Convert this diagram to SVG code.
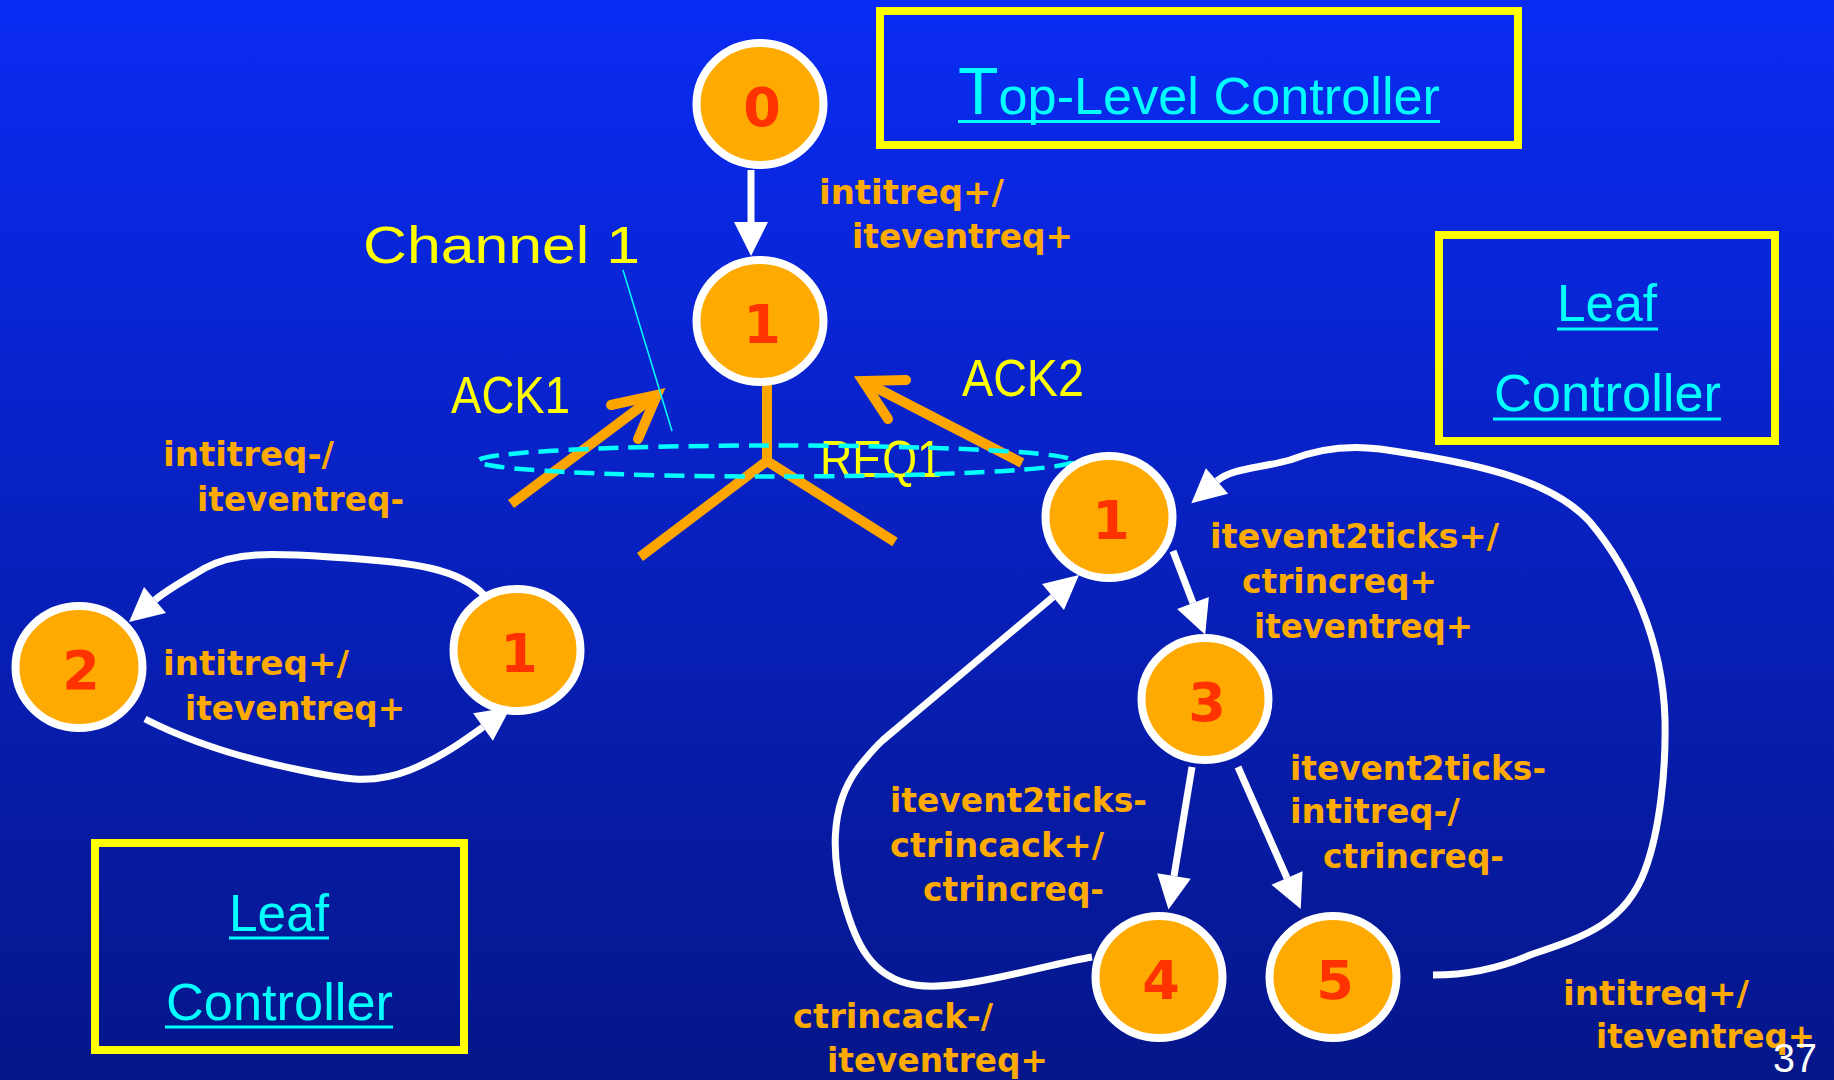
<svg xmlns="http://www.w3.org/2000/svg" width="1834" height="1080" viewBox="0 0 1834 1080">
  <defs>
    <linearGradient id="bg" x1="0" y1="0" x2="0" y2="1">
      <stop offset="0" stop-color="#0A2BF3"/>
      <stop offset="1" stop-color="#051689"/>
    </linearGradient>
    <marker id="head" markerUnits="userSpaceOnUse" markerWidth="36" markerHeight="36" refX="0" refY="17" orient="auto" overflow="visible">
      <path d="M0,0 L34,17 L0,34 Z" fill="#FFFFFF"/>
    </marker>
    <style>
      .node ellipse { fill: #FFAA00; stroke: #FFFFFF; stroke-width: 8; }
      .node text { font-family: "DejaVu Sans", Verdana, sans-serif; font-weight: bold; font-size: 54px; fill: #FF3300; text-anchor: middle; }
      .edge { fill: none; stroke: #FFFFFF; stroke-width: 7; marker-end: url(#head); }
      .sig { fill: none; stroke: #FFA500; stroke-width: 10; stroke-linejoin: miter; }
      .sig-head { fill: none; stroke: #FFA500; stroke-width: 10; stroke-linecap: round; stroke-linejoin: miter; }
      .lbl { font-family: "DejaVu Sans", Verdana, sans-serif; font-weight: bold; font-size: 33px; fill: #FFAA00; }
      .sigtxt { font-family: "Liberation Sans", Arial, sans-serif; font-size: 52px; fill: #FFFF00; }
      .box rect { fill: none; stroke: #FFFF00; stroke-width: 8; }
      .box text { font-family: "Liberation Sans", Arial, sans-serif; font-size: 52px; fill: #00FFFF; }
      .box line { stroke: #00FFFF; stroke-width: 3; }
    </style>
  </defs>

  <rect x="0" y="0" width="1834" height="1080" fill="url(#bg)"/>

  <!-- controller frames -->
  <g id="box-top" class="box">
    <rect x="880" y="11" width="638" height="134"/>
    <text x="958" y="113.5" font-size="54" textLength="482" lengthAdjust="spacingAndGlyphs"><tspan font-size="66">T</tspan>op-Level Controller</text>
    <line x1="958" y1="121.5" x2="1440" y2="121.5"/>
  </g>
  <g id="box-leaf-right" class="box">
    <rect x="1439" y="235" width="336" height="206"/>
    <text x="1557" y="321" textLength="100" lengthAdjust="spacingAndGlyphs">Leaf</text>
    <line x1="1557" y1="329" x2="1658" y2="329"/>
    <text x="1494" y="411" textLength="227" lengthAdjust="spacingAndGlyphs">Controller</text>
    <line x1="1493" y1="419" x2="1721" y2="419"/>
  </g>
  <g id="box-leaf-left" class="box">
    <rect x="95" y="843" width="369" height="207"/>
    <text x="229" y="931" textLength="100" lengthAdjust="spacingAndGlyphs">Leaf</text>
    <line x1="229" y1="938" x2="329" y2="938"/>
    <text x="166" y="1020" textLength="227" lengthAdjust="spacingAndGlyphs">Controller</text>
    <line x1="165" y1="1027" x2="393" y2="1027"/>
  </g>

  <!-- channel 1: handshake wires between the controllers -->
  <g id="channel">
    <path class="sig" d="M767,383 L767,461 M640,557 L767,461 L895,542"/>
    <path class="sig" d="M511,504 L655,396"/>
    <path class="sig-head" d="M611,405 L657,395 L638,439"/>
    <path class="sig" d="M1022,463 L865,382"/>
    <path class="sig-head" d="M906,380 L863,381 L888,419"/>
    <text class="sigtxt" x="451" y="413" textLength="119" lengthAdjust="spacingAndGlyphs">ACK1</text>
    <text class="sigtxt" x="962" y="396" textLength="122" lengthAdjust="spacingAndGlyphs">ACK2</text>
    <text class="sigtxt" x="820" y="477" textLength="122" lengthAdjust="spacingAndGlyphs">REQ1</text>
    <ellipse cx="775.5" cy="461" rx="297.5" ry="15.5" fill="none" stroke="#00FFFF" stroke-width="4.5" stroke-dasharray="20 10"/>
    <line x1="623" y1="270" x2="672" y2="431" stroke="#00FFFF" stroke-width="1.5"/>
    <text class="sigtxt" x="363" y="263" font-size="64" textLength="277" lengthAdjust="spacingAndGlyphs">Channel 1</text>
  </g>

  <!-- state transitions -->
  <g id="connectors">
    <path class="edge" d="M751,170 L751,222"/>
    <path class="edge" d="M484,595 C460,570 420,562 330,557 C270,553 235,552 205,568 C185,580 168,589 155,600"/>
    <path class="edge" d="M145,719 C190,742 240,758 300,770 C340,778 370,786 410,770 C440,758 462,742 483,727"/>
    <path class="edge" d="M1173,551 L1193,603"/>
    <path class="edge" d="M1192,767 L1174,876"/>
    <path class="edge" d="M1238,767 L1287,878"/>
    <path class="edge" d="M1092,957 C1040,966 960,992 915,985 C870,978 855,940 845,905 C832,862 828,808 858,768 C866,758 873,749 883,740 L1053,597"/>
    <path class="edge" d="M1433,975 C1470,975 1500,968 1530,955 C1580,938 1625,925 1645,870 C1660,830 1666,770 1665,720 C1663,640 1630,570 1590,522 C1550,478 1470,462 1380,449 C1340,444 1310,452 1290,460 C1262,468 1232,468 1217,481"/>
  </g>

  <!-- transition labels -->
  <g id="labels" class="lbl">
    <text x="819" y="204" textLength="185" lengthAdjust="spacingAndGlyphs">intitreq+/</text>
    <text x="852" y="248" textLength="221" lengthAdjust="spacingAndGlyphs">iteventreq+</text>

    <text x="163" y="466" textLength="171" lengthAdjust="spacingAndGlyphs">intitreq-/</text>
    <text x="197" y="511" textLength="207" lengthAdjust="spacingAndGlyphs">iteventreq-</text>

    <text x="163" y="675" textLength="186" lengthAdjust="spacingAndGlyphs">intitreq+/</text>
    <text x="185" y="720" textLength="220" lengthAdjust="spacingAndGlyphs">iteventreq+</text>

    <text x="1210" y="548" textLength="289" lengthAdjust="spacingAndGlyphs">itevent2ticks+/</text>
    <text x="1242" y="593" textLength="195" lengthAdjust="spacingAndGlyphs">ctrincreq+</text>
    <text x="1254" y="638" textLength="219" lengthAdjust="spacingAndGlyphs">iteventreq+</text>

    <text x="1290" y="780" textLength="256" lengthAdjust="spacingAndGlyphs">itevent2ticks-</text>
    <text x="1290" y="823" textLength="170" lengthAdjust="spacingAndGlyphs">intitreq-/</text>
    <text x="1323" y="868" textLength="181" lengthAdjust="spacingAndGlyphs">ctrincreq-</text>

    <text x="890" y="812" textLength="257" lengthAdjust="spacingAndGlyphs">itevent2ticks-</text>
    <text x="890" y="857" textLength="214" lengthAdjust="spacingAndGlyphs">ctrincack+/</text>
    <text x="923" y="901" textLength="181" lengthAdjust="spacingAndGlyphs">ctrincreq-</text>

    <text x="793" y="1028" textLength="200" lengthAdjust="spacingAndGlyphs">ctrincack-/</text>
    <text x="827" y="1072" textLength="221" lengthAdjust="spacingAndGlyphs">iteventreq+</text>

    <text x="1563" y="1005" textLength="186" lengthAdjust="spacingAndGlyphs">intitreq+/</text>
    <text x="1596" y="1048" textLength="219" lengthAdjust="spacingAndGlyphs">iteventreq+</text>
  </g>

  <!-- states -->
  <g id="top-0" class="node"><ellipse cx="760" cy="104" rx="63.5" ry="61"/><text x="762" y="126">0</text></g>
  <g id="top-1" class="node"><ellipse cx="760" cy="321" rx="63.5" ry="61"/><text x="762" y="343">1</text></g>
  <g id="left-1" class="node"><ellipse cx="517" cy="650" rx="63.5" ry="61"/><text x="519" y="672">1</text></g>
  <g id="left-2" class="node"><ellipse cx="79" cy="667" rx="63.5" ry="61"/><text x="81" y="689">2</text></g>
  <g id="right-1" class="node"><ellipse cx="1109" cy="517" rx="63.5" ry="61"/><text x="1111" y="539">1</text></g>
  <g id="right-3" class="node"><ellipse cx="1205" cy="699" rx="63.5" ry="61"/><text x="1207" y="721">3</text></g>
  <g id="right-4" class="node"><ellipse cx="1159" cy="977" rx="63.5" ry="61"/><text x="1161" y="999">4</text></g>
  <g id="right-5" class="node"><ellipse cx="1333" cy="977" rx="63.5" ry="61"/><text x="1335" y="999">5</text></g>

  <text x="1773" y="1072" font-family="Liberation Sans, Arial, sans-serif" font-size="40" fill="#FFFFFF" textLength="44" lengthAdjust="spacingAndGlyphs">37</text>
</svg>
